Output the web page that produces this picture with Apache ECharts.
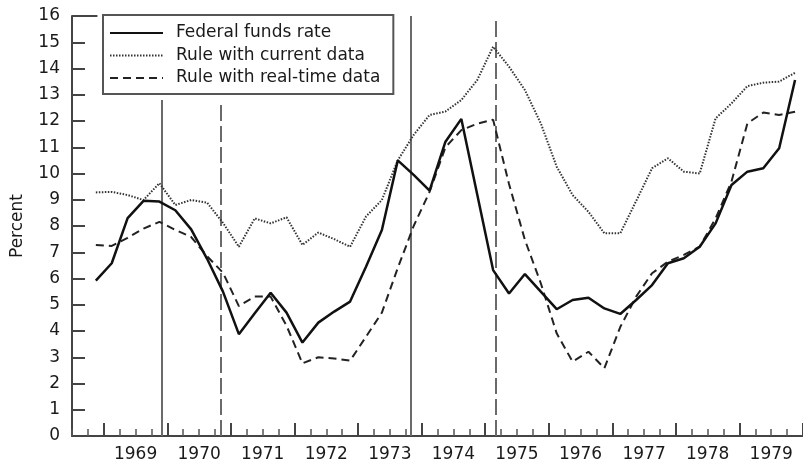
<!DOCTYPE html>
<html>
<head>
<meta charset="utf-8">
<script src="https://cdn.jsdelivr.net/npm/echarts@6/dist/echarts.min.js"></script>
<style>
  html, body { margin: 0; padding: 0; background: #fff; }
  #chart { width: 803px; height: 468px; }
</style>
</head>
<body>
<div id="chart"></div>
<script>
// Quarterly observations, 1968Q4 through 1979Q4
const firstYear = 1968, firstQuarter = 4, quarterCount = 45;
const quarters = [];
for (let k = 0; k < quarterCount; k++) {
  const n = firstQuarter - 1 + k;
  quarters.push((firstYear + Math.floor(n / 4)) + 'Q' + (n % 4 + 1));
}

// Federal funds rate, percent
const fedFunds = [
  5.92, 6.58, 8.30, 8.96, 8.93, 8.60, 7.87, 6.75, 5.50, 3.88,
  4.68, 5.46, 4.70, 3.56, 4.32, 4.74, 5.12, 6.45, 7.85, 10.50,
  9.95, 9.35, 11.21, 12.08, 9.20, 6.32, 5.43, 6.17, 5.50, 4.83,
  5.18, 5.27, 4.86, 4.65, 5.18, 5.75, 6.58, 6.77, 7.21, 8.10,
  9.56, 10.07, 10.20, 10.96, 13.56
];

// Policy rule evaluated with current (revised) data
const ruleCurrent = [
  9.28, 9.30, 9.18, 8.99, 9.63, 8.80, 8.99, 8.89, 8.12, 7.21,
  8.29, 8.10, 8.33, 7.28, 7.75, 7.50, 7.21, 8.36, 8.99, 10.50,
  11.47, 12.23, 12.36, 12.80, 13.56, 14.83, 14.07, 13.18, 11.91, 10.26,
  9.18, 8.54, 7.72, 7.72, 8.95, 10.20, 10.58, 10.07, 10.00, 12.10,
  12.67, 13.33, 13.46, 13.50, 13.84
];

// Policy rule evaluated with real-time data
const ruleRealTime = [
  7.28, 7.24, 7.55, 7.90, 8.16, 7.85, 7.58, 6.85, 6.22, 4.95,
  5.31, 5.31, 4.20, 2.77, 3.00, 2.95, 2.87, 3.78, 4.70, 6.40,
  8.00, 9.30, 11.00, 11.65, 11.90, 12.05, 9.60, 7.47, 5.82, 3.91,
  2.83, 3.21, 2.58, 4.15, 5.31, 6.20, 6.64, 6.90, 7.21, 8.29,
  9.69, 11.91, 12.32, 12.23, 12.35
];

// Business-cycle turning points (month)
const peakMonths = ['1969-12', '1973-11'];
const troughMonths = ['1970-11', '1975-03'];

// Axis labels
const yearLabels = [1969, 1970, 1971, 1972, 1973, 1974, 1975, 1976, 1977, 1978, 1979];
const seriesNames = ['Federal funds rate', 'Rule with current data', 'Rule with real-time data'];

const X_MIN = 1968.5, X_MAX = 1980, Y_MAX = 16;
const LEGEND_FLOOR = 12.8; // turning-point lines stop below the legend box

function quarterPos(q) {
  const parts = q.split('Q');
  return +parts[0] + (+parts[1] - 0.5) / 4;
}
function monthPos(m) {
  const parts = m.split('-');
  return +parts[0] + (+parts[1] - 1) / 12;
}
function pairs(values) {
  return quarters.map((q, i) => [quarterPos(q), values[i]]);
}

const FONT = 'DejaVu Sans';
const INK = '#1a1a1a';
const AXIS = '#444';

function turningLine(x, dashed) {
  const top = x < 1971 ? LEGEND_FLOOR : Y_MAX;
  return [
    { coord: [x, 0], lineStyle: { color: '#6a6a6a', width: 2, type: dashed ? [16, 5] : 'solid' } },
    { coord: [x, top] }
  ];
}

const cycleLines = []
  .concat(peakMonths.map(m => turningLine(monthPos(m), false)))
  .concat(troughMonths.map(m => turningLine(monthPos(m), true)));

// Short cap at the top of the vertical axis
cycleLines.push([
  { coord: [X_MIN, Y_MAX], lineStyle: { color: AXIS, width: 2, type: 'solid' } },
  { coord: [X_MIN + 0.4, Y_MAX] }
]);

const chart = echarts.init(document.getElementById('chart'), null, { renderer: 'canvas' });

chart.setOption({
  animation: false,
  backgroundColor: '#fff',
  textStyle: { fontFamily: FONT },
  grid: { left: 72, right: 0, top: 16, bottom: 32, containLabel: false },
  legend: {
    data: seriesNames,
    orient: 'vertical',
    left: 103,
    top: 15,
    padding: [8, 13, 6, 6],
    itemWidth: 53,
    itemHeight: 14,
    itemGap: 2.5,
    backgroundColor: '#fff',
    borderColor: '#555',
    borderWidth: 2,
    borderRadius: 0,
    itemStyle: { opacity: 0, borderWidth: 0 },
    textStyle: { fontFamily: FONT, fontSize: 17, color: INK, lineHeight: 20, padding: [0, 0, 0, 8] }
  },
  xAxis: [
    {
      type: 'value',
      min: X_MIN,
      max: X_MAX,
      interval: 0.25,
      axisLine: { show: true, lineStyle: { color: AXIS, width: 2 } },
      axisTick: { show: true, inside: true, length: 7, lineStyle: { color: '#555', width: 1.5 } },
      axisLabel: { show: false },
      splitLine: { show: false }
    },
    {
      type: 'value',
      min: X_MIN,
      max: X_MAX,
      position: 'bottom',
      axisLine: { show: false },
      axisTick: {
        show: true, inside: true, length: 13,
        customValues: yearLabels.concat([1980]),
        lineStyle: { color: AXIS, width: 2 }
      },
      axisLabel: {
        show: true,
        customValues: yearLabels.map(y => y + 0.5),
        formatter: v => String(Math.floor(v)),
        fontFamily: FONT, fontSize: 17, color: INK, margin: 10
      },
      splitLine: { show: false }
    }
  ],
  yAxis: {
    type: 'value',
    min: 0,
    max: Y_MAX,
    interval: 1,
    name: 'Percent',
    nameLocation: 'middle',
    nameGap: 46,
    nameTextStyle: { fontFamily: FONT, fontSize: 17, color: INK },
    axisLine: { show: true, lineStyle: { color: AXIS, width: 2 } },
    axisTick: { show: true, inside: true, length: 13, lineStyle: { color: AXIS, width: 2 } },
    axisLabel: { fontFamily: FONT, fontSize: 17, color: INK, margin: 12 },
    splitLine: { show: false }
  },
  series: [
    {
      name: seriesNames[0],
      type: 'line',
      xAxisIndex: 0,
      data: pairs(fedFunds),
      symbol: 'none',
      z: 4,
      lineStyle: { color: '#111', width: 2.5, type: 'solid' },
      itemStyle: { color: '#111' },
      markLine: {
        silent: true,
        symbol: ['none', 'none'],
        label: { show: false },
        z: 1,
        data: cycleLines
      }
    },
    {
      name: seriesNames[1],
      type: 'line',
      xAxisIndex: 0,
      data: pairs(ruleCurrent),
      symbol: 'none',
      z: 3,
      lineStyle: { color: '#333', width: 2, type: [1.5, 1.5] },
      itemStyle: { color: '#333' }
    },
    {
      name: seriesNames[2],
      type: 'line',
      xAxisIndex: 0,
      data: pairs(ruleRealTime),
      symbol: 'none',
      z: 3,
      lineStyle: { color: '#222', width: 2, type: [8, 5] },
      itemStyle: { color: '#222' }
    }
  ]
});
</script>
</body>
</html>
